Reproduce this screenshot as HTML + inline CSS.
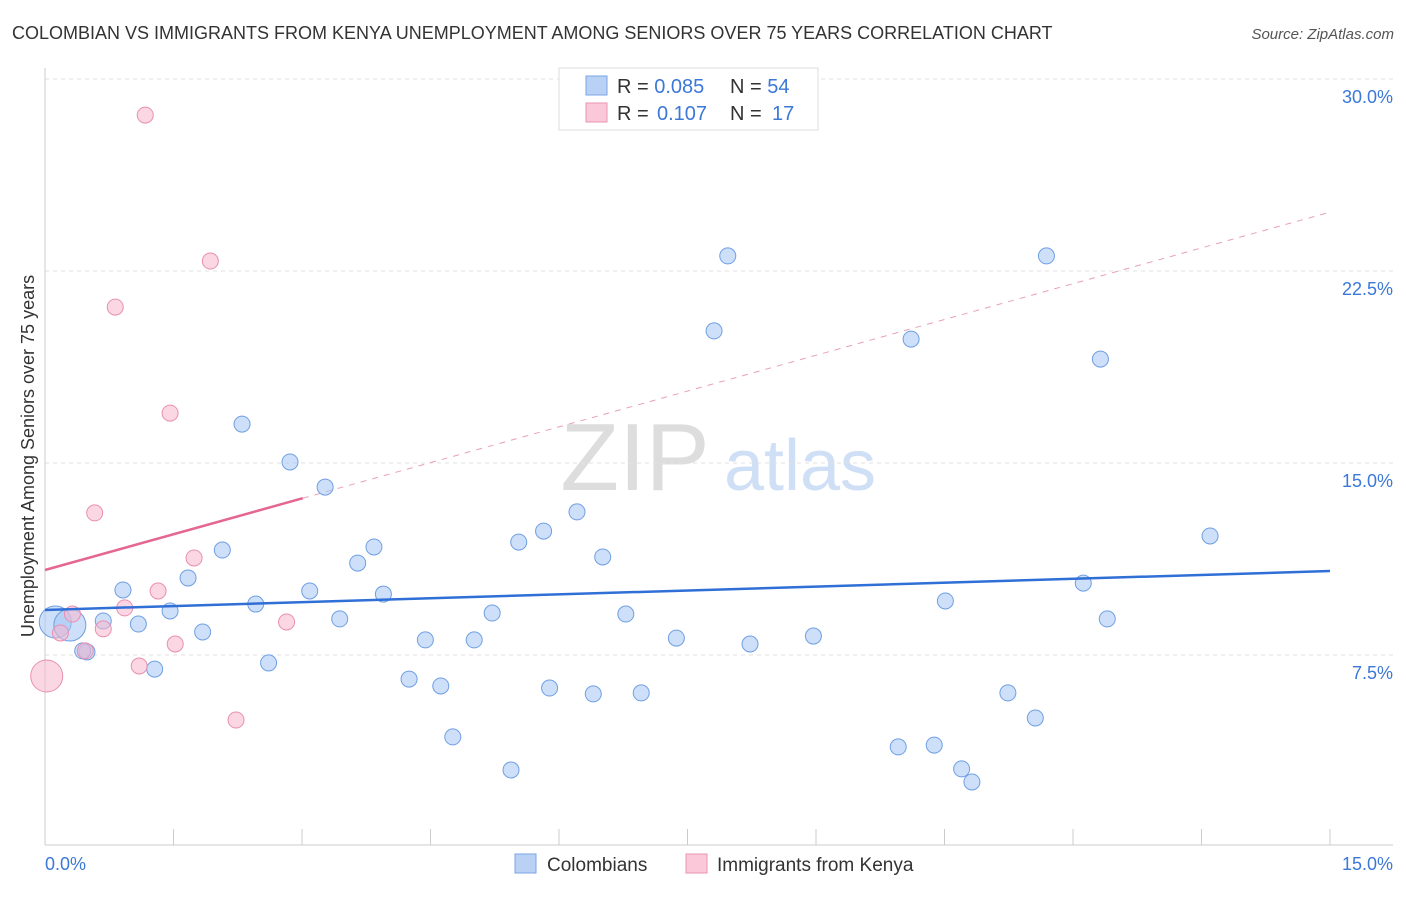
<!DOCTYPE html>
<html><head><meta charset="utf-8"><style>
body{margin:0;background:#fff;font-family:"Liberation Sans",sans-serif;}
svg text{font-family:"Liberation Sans",sans-serif;}
</style></head><body>
<svg width="1406" height="892" xmlns="http://www.w3.org/2000/svg" id="chart">
<text x="12" y="39" font-size="18" fill="#333">COLOMBIAN VS IMMIGRANTS FROM KENYA UNEMPLOYMENT AMONG SENIORS OVER 75 YEARS CORRELATION CHART</text>
<text x="1394" y="39" font-size="15" fill="#555" text-anchor="end" font-style="italic">Source: ZipAtlas.com</text>
<text x="635" y="490" font-size="96" fill="#ddd" font-family="Liberation Serif" text-anchor="middle">ZIP</text>
<text x="800" y="490" font-size="72" fill="#cfdff5" text-anchor="middle">atlas</text>
<text transform="translate(34,456) rotate(-90)" font-size="18" fill="#333" text-anchor="middle">Unemployment Among Seniors over 75 years</text>
<g id="grid"></g><g id="axes"></g><g id="trend"></g><g id="pts"></g>
<g>
<rect x="559" y="68" width="259" height="62" fill="#fff" stroke="#ddd"/>
<rect x="586" y="76" width="21" height="19" fill="#b8d1f5" stroke="#7ba5e6"/>
<rect x="586" y="103" width="21" height="19" fill="#fac8d8" stroke="#eb95b1"/>
<text x="617" y="93" font-size="20" fill="#333">R = <tspan fill="#3b78d8">0.085</tspan><tspan x="730">N = </tspan><tspan fill="#3b78d8">54</tspan></text>
<text x="617" y="120" font-size="20" fill="#333">R = <tspan x="657" fill="#3b78d8">0.107</tspan><tspan x="730">N = </tspan><tspan x="772" fill="#3b78d8">17</tspan></text>
</g>
<g>
<rect x="515" y="854" width="21" height="19" fill="#b8d1f5" stroke="#7ba5e6"/>
<text x="547" y="871" font-size="19" fill="#333">Colombians</text>
<rect x="686" y="854" width="21" height="19" fill="#fac8d8" stroke="#eb95b1"/>
<text x="717" y="871" font-size="19" fill="#333">Immigrants from Kenya</text>
</g>
</svg>
<script>
const blueX=[0.12,0.29,0.49,0.44,0.68,0.91,1.09,1.28,1.46,1.67,1.84,2.07,2.30,2.46,2.61,2.86,3.09,3.27,3.44,3.65,3.84,3.95,4.25,4.44,4.62,4.76,5.01,5.22,5.44,5.53,5.82,5.89,6.21,6.40,6.51,6.78,6.96,7.37,7.81,7.97,8.23,8.97,9.96,10.11,10.38,10.51,10.70,10.82,11.24,11.56,11.69,12.12,12.32,12.40,13.60];
const blueY=[8.79,8.67,7.62,7.66,8.83,10.04,8.71,6.95,9.22,10.51,8.40,11.60,16.52,9.49,7.19,15.04,10.00,14.06,8.91,11.09,11.72,9.88,6.56,8.09,6.29,4.30,8.09,9.14,3.01,11.91,12.34,6.21,13.09,5.98,11.33,9.10,6.02,8.16,20.16,23.09,7.93,8.24,3.91,19.84,3.98,9.61,3.05,2.54,6.02,5.04,23.09,10.31,19.06,8.91,12.15];
const blueBig=[1,1,0,0,0,0,0,0,0,0,0,0,0,0,0,0,0,0,0,0,0,0,0,0,0,0,0,0,0,0,0,0,0,0,0,0,0,0,0,0,0,0,0,0,0,0,0,0,0,0,0,0,0,0,0];
const pinkX=[0.02,0.18,0.32,0.47,0.68,0.82,0.93,1.10,1.17,1.32,1.46,1.52,1.74,1.93,2.23,2.82,0.58];
const pinkY=[6.68,8.36,9.10,7.66,8.52,21.09,9.34,7.07,28.59,10.00,16.95,7.93,11.29,22.89,4.96,8.79,13.05];
const pinkBig=[1,0,0,0,0,0,0,0,0,0,0,0,0,0,0,0,0];
const yTicks=[7.5,15,22.5,30];
const xTickVals=[0,1.5,3,4.5,6,7.5,9,10.5,12,13.5,15];
const blueTrend=[9.26,10.78];
const pinkTrend=[10.82,24.8];
const pinkSolidEnd=3.01;
const NS="http://www.w3.org/2000/svg";
const sx=v=>45+v*(1285/15);
const sy=v=>847-v*(192/7.5);
function mk(t,a,p){const e=document.createElementNS(NS,t);for(const k in a)e.setAttribute(k,a[k]);document.getElementById(p).appendChild(e);return e;}
yTicks.forEach(v=>{
 const l=mk('line',{x1:45,x2:1393,y1:sy(v),y2:sy(v),stroke:'#e2e2e2','stroke-dasharray':'4,4'},'grid');
 
 
 const t=mk('text',{x:1393,y:sy(v)+24,'font-size':18,fill:'#3b78d8','text-anchor':'end'},'grid');
 t.textContent=v.toFixed(1)+'%';
 
 
});
let ax=mk('line',{x1:45,x2:1393,y1:845,y2:845,stroke:'#ccc'},'axes');


let ay=mk('line',{x1:45,x2:45,y1:68,y2:845,stroke:'#ccc'},'axes');


xTickVals.forEach(v=>{const l=mk('line',{x1:sx(v),x2:sx(v),y1:829,y2:845,stroke:'#ccc'},'axes');
 
 });
[[0,'0.0%','start',45],[15,'15.0%','end',1393]].forEach(d=>{const t=mk('text',{x:d[3],y:870,'font-size':18,fill:'#3b78d8','text-anchor':d[2]},'axes');t.textContent=d[1];
 
 });
const pAt=x=>pinkTrend[0]+(pinkTrend[1]-pinkTrend[0])*x/15;
let tl=mk('line',{x1:sx(pinkSolidEnd),y1:sy(pAt(pinkSolidEnd)),x2:sx(15),y2:sy(pinkTrend[1]),stroke:'#e8a0b8','stroke-dasharray':'6,6','stroke-width':1},'trend');


function dots(X,Y,B,fill,stroke,name){X.forEach((x,i)=>{const c=mk('circle',{cx:sx(x),cy:sy(Y[i]),r:B[i]?16:8,fill:fill,stroke:stroke,'stroke-width':1},'pts');
 
 });}
dots(blueX,blueY,blueBig,'rgba(164,196,244,0.55)','#6f9fe3','colombian-point');
dots(pinkX,pinkY,pinkBig,'rgba(247,182,205,0.55)','#e98fb0','kenya-point');
let bt=mk('line',{x1:sx(0),y1:sy(blueTrend[0]),x2:sx(15),y2:sy(blueTrend[1]),stroke:'#2f6fd6','stroke-width':2.5},'pts');


let pt=mk('line',{x1:sx(0),y1:sy(pinkTrend[0]),x2:sx(pinkSolidEnd),y2:sy(pAt(pinkSolidEnd)),stroke:'#e5668f','stroke-width':2.5},'pts');


</script>
</body></html>
